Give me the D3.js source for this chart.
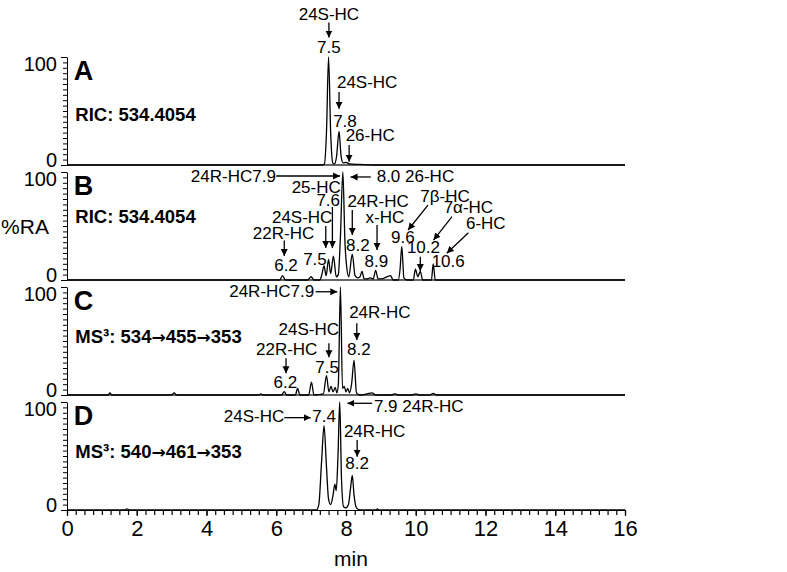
<!DOCTYPE html>
<html>
<head>
<meta charset="utf-8">
<script src="https://cdn.jsdelivr.net/npm/d3@7"></script>
<style>
body { margin: 0; background: #fff; }
svg { display: block; }
text { font-family: "Liberation Sans", Arial, Helvetica, sans-serif; fill: #000; }
</style>
</head>
<body>
<svg id="chart" width="787" height="572"></svg>
<script>
"use strict";
// chromatogram traces: [retention time (min), relative abundance (%)]
const traceA = [[0,0],[7.3,0],[7.38,1],[7.44,30],[7.5,100],[7.56,30],[7.62,2],[7.67,1],[7.73,8],[7.8,31],[7.86,8],[7.92,2],[8.0,2.5],[8.1,1],[8.4,0.5],[8.8,0],[16,0]];
const traceB = [[0,0],[6.1,0],[6.18,4],[6.26,0],[6.9,0],[7.0,3],[7.08,0],[7.25,0],[7.3,4],[7.37,13],[7.43,4],[7.5,19],[7.56,6],[7.64,22],[7.72,3],[7.78,5],[7.84,40],[7.91,100],[7.97,35],[8.02,12],[8.08,3],[8.18,24],[8.26,4],[8.33,2],[8.4,3],[8.46,8],[8.52,1],[8.6,1],[8.7,2],[8.78,1],[8.85,9],[8.92,1],[9.0,1],[9.28,4],[9.35,0],[9.5,0],[9.55,10],[9.6,31],[9.66,2],[9.75,0],[9.93,0],[9.99,10],[10.06,3],[10.13,8],[10.2,0],[10.45,0],[10.5,15],[10.56,0],[16,0]];
const traceC = [[0,0],[1.18,0],[1.23,2],[1.28,0],[3.0,0],[3.07,2],[3.14,0],[5.5,0],[5.56,1],[5.62,0],[6.15,0],[6.23,3],[6.3,0],[6.55,0],[6.61,6],[6.68,0],[6.93,0],[7.01,12],[7.08,0],[7.35,1],[7.44,18],[7.51,3],[7.57,8],[7.63,3],[7.69,7],[7.74,2],[7.78,10],[7.84,100],[7.9,6],[7.95,8],[8.0,3],[8.05,6],[8.1,2],[8.16,10],[8.23,32],[8.3,2],[8.4,0],[8.6,1],[8.75,2],[8.85,0],[9.3,0],[9.4,1],[9.5,0],[9.9,0],[10.0,1],[10.1,0],[10.4,0],[10.5,1.5],[10.6,0],[16,0]];
const traceD = [[0,0],[1.65,0],[1.72,1],[1.8,0],[7.15,0],[7.22,5],[7.3,45],[7.37,78],[7.44,40],[7.5,10],[7.56,5],[7.63,14],[7.68,24],[7.72,18],[7.77,50],[7.82,100],[7.87,30],[7.93,3],[8.0,2],[8.07,5],[8.13,20],[8.18,32],[8.23,14],[8.3,2],[8.4,0],[8.85,0],[8.9,1],[8.95,0],[16,0]];

const panelLetters = ["A", "B", "C", "D"];
const panelTitles = ["RIC: 534.4054", "RIC: 534.4054", "MS³: 534→455→353", "MS³: 540→461→353"];
const yTickLabels = [0, 100];
const xTickLabels = [0, 2, 4, 6, 8, 10, 12, 14, 16];

// peak annotations: [time, %, text, anchor]
const notesA = [[7.51,134,"24S-HC","middle"],[7.51,104,"7.5","middle"],[7.74,71,"24S-HC","start"],[7.97,35.5,"7.8","middle"],[7.99,22.5,"26-HC","start"]];
const notesB = [[5.99,91,"24R-HC7.9","end"],[8.88,91,"8.0 26-HC","start"],[7.85,80.8,"25-HC","end"],[7.49,68.3,"7.6","middle"],[7.61,52.5,"24S-HC","end"],[7.09,38,"22R-HC","end"],[6.28,8.3,"6.2","middle"],[7.11,13.9,"7.5","middle"],[8.04,67.9,"24R-HC","start"],[8.34,26.9,"8.2","middle"],[8.56,52.5,"x-HC","start"],[8.87,12.3,"8.9","middle"],[10.13,71.9,"7β-HC","start"],[9.63,34,"9.6","middle"],[10.8,61.8,"7α-HC","start"],[10.22,24.7,"10.2","middle"],[11.44,47.2,"6-HC","start"],[10.93,12.3,"10.6","middle"]];
const notesC = [[7.09,91,"24R-HC7.9","end"],[8.09,71,"24R-HC","start"],[8.37,37,"8.2","middle"],[7.8,55.6,"24S-HC","end"],[7.18,37,"22R-HC","end"],[7.46,20.6,"7.5","middle"],[6.26,6.2,"6.2","middle"]];
const notesD = [[6.23,81.8,"24S-HC","end"],[7.37,81.8,"7.4","middle"],[8.8,91,"7.9 24R-HC","start"],[7.94,67.9,"24R-HC","start"],[8.32,38,"8.2","middle"]];

// arrows: [t1, v1, t2, v2], head at the second point
const arrowsA = [[7.51,132,7.51,118],[7.8,67.5,7.8,52],[8.09,18.5,8.09,3]];
const arrowsB = [[6.0,96.3,7.83,96.3],[8.71,95.4,8.13,95.4],[7.61,67.6,7.61,29.6],[7.42,50,7.42,29.6],[6.23,36.6,6.23,22.2],[8.18,64.8,8.18,41.7],[8.89,50.9,8.89,27.8],[10.35,69.4,9.78,46.3],[11.04,58.6,10.51,37],[10.13,21.6,10.13,8.3],[11.51,43.8,10.89,24.7]];
const arrowsC = [[7.13,95.6,7.75,95.6],[8.31,66.4,8.31,50.9],[7.51,47.9,7.51,34.9],[6.28,34,6.28,20.1]];
const arrowsD = [[6.23,85.5,6.99,85.5],[8.75,98.8,8.04,98.8],[8.32,64.8,8.32,49.4]];

const traces = [traceA, traceB, traceC, traceD];
const notes = [notesA, notesB, notesC, notesD];
const arrows = [arrowsA, arrowsB, arrowsC, arrowsD];
const titleLevels = [40.7, 52.8, 48, 48];

const panelTop0 = 57, panelStep = 115, panelH = 108;
const svg = d3.select("#chart");
const x = d3.scaleLinear().domain([0, 16]).range([67, 625]);

svg.append("defs").append("marker")
    .attr("id", "head")
    .attr("viewBox", "0 0 10 10")
    .attr("refX", 10).attr("refY", 5)
    .attr("markerWidth", 7).attr("markerHeight", 8)
    .attr("markerUnits", "userSpaceOnUse")
    .attr("orient", "auto")
    .append("path").attr("d", "M0,0L10,5L0,10z").attr("fill", "#000");

traces.forEach((trace, i) => {
    const top = panelTop0 + i * panelStep;
    const y = d3.scaleLinear().domain([0, 100]).range([top + panelH, top]);
    const g = svg.append("g");

    // y axis: minor ticks every 5, labels at 0 and 100 pulled inside the panel
    g.append("g").attr("transform", `translate(${x(0)},0)`)
        .call(d3.axisLeft(y).tickValues(d3.range(0, 101, 5)).tickSize(4).tickFormat("").tickSizeOuter(0))
        .call(a => a.selectAll("line,path").attr("stroke", "#000").attr("stroke-width", 1));
    g.append("g").attr("transform", `translate(${x(0)},0)`)
        .call(d3.axisLeft(y).tickValues(yTickLabels).tickSize(6).tickPadding(4))
        .call(a => a.select(".domain").remove())
        .call(a => a.selectAll("line").attr("stroke", "#000"))
        .call(a => a.selectAll("text").attr("font-size", 20).attr("dy", "0.36em")
            .attr("y", d => d === 100 ? 6 : -6)
            .style("font-family", "'Liberation Sans', Arial, sans-serif"));

    // x axis line (ticks and labels only on the last panel)
    if (i < 3) {
        g.append("line")
            .attr("x1", x(0)).attr("x2", x(16))
            .attr("y1", y(0)).attr("y2", y(0))
            .attr("stroke", "#333").attr("stroke-width", 1.4);
    } else {
        g.append("g").attr("transform", `translate(0,${y(0)})`)
            .call(d3.axisBottom(x).tickValues(d3.range(0, 16.01, 0.25)).tickSize(5).tickFormat("").tickSizeOuter(0))
            .call(a => a.selectAll("line,path").attr("stroke", "#000").attr("stroke-width", 1.2));
        g.append("g").attr("transform", `translate(0,${y(0)})`)
            .call(d3.axisBottom(x).tickValues(xTickLabels).tickSize(6).tickPadding(4).tickSizeOuter(0))
            .call(a => a.select(".domain").remove())
            .call(a => a.selectAll("line").attr("stroke", "#000").attr("stroke-width", 1.2))
            .call(a => a.selectAll("text").attr("font-size", 22)
                .style("font-family", "'Liberation Sans', Arial, sans-serif"));
    }

    // trace
    g.append("path")
        .datum(trace)
        .attr("fill", "none")
        .attr("stroke", "#000")
        .attr("stroke-width", 1.3)
        .attr("stroke-linejoin", "round")
        .attr("d", d3.line().x(d => x(d[0])).y(d => y(d[1])).curve(d3.curveMonotoneX));

    // panel letter and title (arrows in the MS3 titles use a font with a bigger arrow glyph)
    g.append("text").attr("x", x(0.19)).attr("y", y(78.7))
        .attr("font-size", 27).attr("font-weight", "bold").text(panelLetters[i]);
    const title = g.append("text").attr("x", x(0.24)).attr("y", y(titleLevels[i]))
        .attr("font-size", 18.5).attr("font-weight", "bold");
    panelTitles[i].split("→").forEach((part, k) => {
        if (k > 0) {
            title.append("tspan").style("font-family", "'DejaVu Sans', sans-serif")
                .attr("font-size", 17).text("→");
        }
        title.append("tspan").text(part);
    });

    // annotations
    g.selectAll("text.note").data(notes[i]).join("text")
        .attr("class", "note")
        .attr("x", d => x(d[0])).attr("y", d => y(d[1]))
        .attr("text-anchor", d => d[3])
        .attr("font-size", 17)
        .text(d => d[2]);
    g.selectAll("line.arrow").data(arrows[i]).join("line")
        .attr("class", "arrow")
        .attr("x1", d => x(d[0])).attr("y1", d => y(d[1]))
        .attr("x2", d => x(d[2])).attr("y2", d => y(d[3]))
        .attr("stroke", "#000").attr("stroke-width", 1.3)
        .attr("marker-end", "url(#head)");
});

svg.append("text").attr("x", 25).attr("y", 234)
    .attr("text-anchor", "middle").attr("font-size", 21).text("%RA");
svg.append("text").attr("x", 351).attr("y", 566)
    .attr("text-anchor", "middle").attr("font-size", 21).text("min");
</script>
</body>
</html>
